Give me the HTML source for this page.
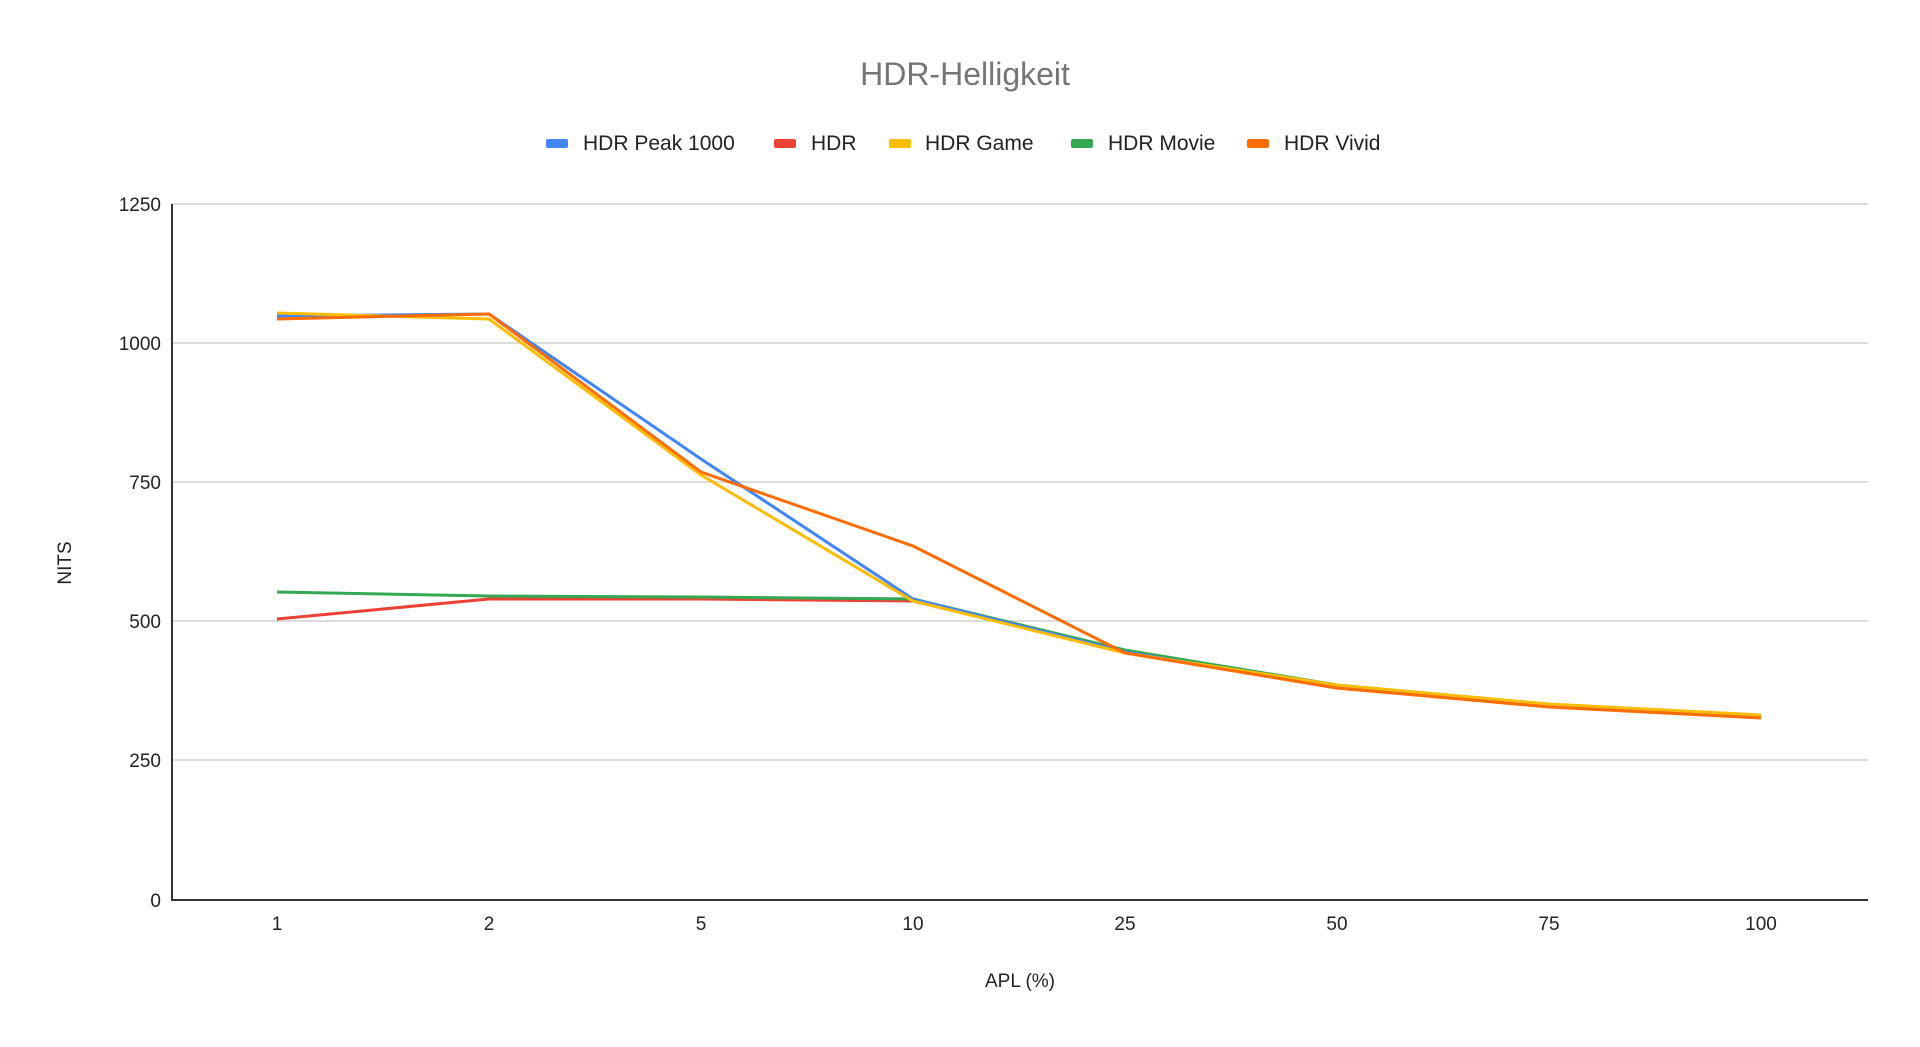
<!DOCTYPE html>
<html><head><meta charset="utf-8"><style>
html,body{margin:0;padding:0;background:#fff;}
svg{display:block;font-family:"Liberation Sans",Arial,sans-serif;}
</style></head><body>
<svg width="1920" height="1047" viewBox="0 0 1920 1047" xmlns="http://www.w3.org/2000/svg">
<rect width="1920" height="1047" fill="#fff"/>
<text x="965" y="85" text-anchor="middle" font-size="32" fill="#757575">HDR-Helligkeit</text>
<g font-size="21" fill="#222">
<rect x="546" y="139" width="22" height="9" rx="2" fill="#4285f4"/><text x="583" y="150">HDR Peak 1000</text>
<rect x="774" y="139" width="22" height="9" rx="2" fill="#ea4335"/><text x="811" y="150">HDR</text>
<rect x="889" y="139" width="22" height="9" rx="2" fill="#fbbc04"/><text x="925" y="150">HDR Game</text>
<rect x="1071" y="139" width="22" height="9" rx="2" fill="#34a853"/><text x="1108" y="150">HDR Movie</text>
<rect x="1247" y="139" width="22" height="9" rx="2" fill="#ff6d01"/><text x="1284" y="150">HDR Vivid</text>
</g>
<g stroke="#d0d0d0" stroke-width="1.5">
<line x1="172" x2="1868" y1="204" y2="204"/>
<line x1="172" x2="1868" y1="343" y2="343"/>
<line x1="172" x2="1868" y1="482" y2="482"/>
<line x1="172" x2="1868" y1="621" y2="621"/>
<line x1="172" x2="1868" y1="760" y2="760"/>
</g>
<line x1="172" x2="172" y1="204" y2="901" stroke="#333" stroke-width="2"/>
<line x1="172" x2="1868" y1="900" y2="900" stroke="#333" stroke-width="2"/>
<g font-size="19" fill="#222" text-anchor="end">
<text x="161" y="211">1250</text><text x="161" y="350">1000</text><text x="161" y="489">750</text>
<text x="161" y="628">500</text><text x="161" y="767">250</text><text x="161" y="907">0</text>
</g>
<g font-size="19" fill="#222" text-anchor="middle">
<text x="277" y="930">1</text><text x="489" y="930">2</text><text x="701" y="930">5</text><text x="913" y="930">10</text>
<text x="1125" y="930">25</text><text x="1337" y="930">50</text><text x="1549" y="930">75</text><text x="1761" y="930">100</text>
</g>
<text x="1020" y="987" font-size="19" fill="#222" text-anchor="middle">APL (%)</text>
<text transform="translate(71,563) rotate(-90)" font-size="19" fill="#222" text-anchor="middle">NITS</text>
<g fill="none" stroke-width="3" stroke-linejoin="round">
<polyline stroke="#ea4335" points="277,619 489,599 701,599 913,601 1125,652 1337,688 1549,706 1761,717"/>
<polyline stroke="#34a853" points="277,592 489,596 701,597 913,599 1125,650 1337,685 1549,705 1761,716"/>
<polyline stroke="#4285f4" points="277,316 489,314 701,459 913,599 1125,652 1337,687 1549,705 1761,716"/>
<polyline stroke="#fbbc04" points="277,313 489,319 701,475 913,601 1125,653 1337,685 1549,704 1761,715"/>
<polyline stroke="#ff6d01" points="277,319 489,314 701,472 913,546 1125,653 1337,688 1549,707 1761,718"/>
</g>
</svg>
</body></html>
